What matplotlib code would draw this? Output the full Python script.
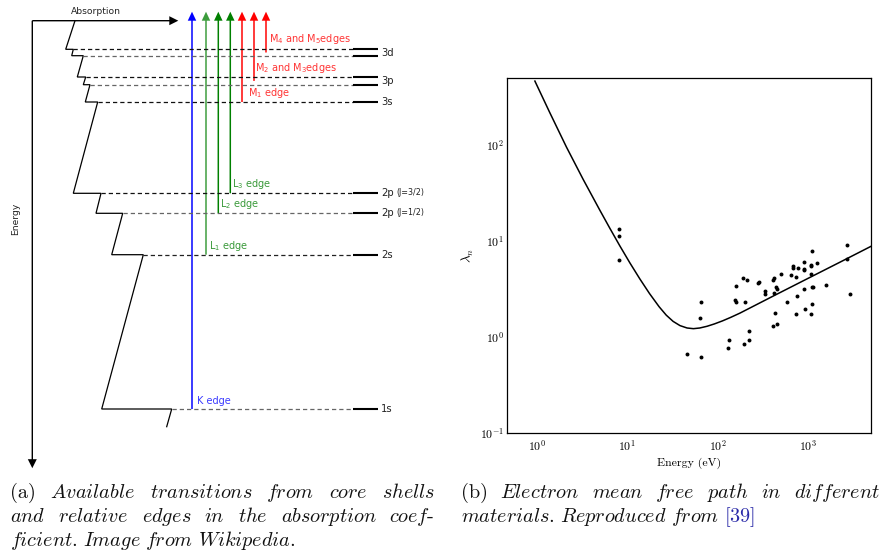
import matplotlib
matplotlib.use('Agg')
import matplotlib.pyplot as plt
from matplotlib.ticker import FuncFormatter, NullLocator, LogLocator
import numpy as np

plt.rcParams['mathtext.fontset'] = 'cm'

# ---------------- panel (a): schematic shell diagram (diagram rows, top = high energy) ----
level_rows = [49.3, 55.7, 77.0, 84.7, 102.0, 193.3, 213.3, 254.7, 409.0]
saw_left = [65.7, 71.7, 77.3, 83.3, 85.3, 73.3, 96.0, 111.7, 101.7]
saw_right = [73.3, 83.3, 85.7, 90.0, 97.7, 101.0, 122.7, 143.3, 171.7]
dash_colors = ['#111111', '#666666', '#111111', '#666666', '#111111',
               '#111111', '#666666', '#222222', '#666666']

shell_names = ['3d', '3p', '3s', '2p', '2p', '2s', '1s']
shell_rows = [52.5, 81.0, 102.0, 193.3, 213.3, 254.7, 409.0]
shell_j = ['', '', '', '(J=3/2)', '(J=1/2)', '', '']

edge_names = ['K edge', 'L$_1$ edge', 'L$_2$ edge', 'L$_3$ edge',
              'M$_1$ edge', 'M$_2$ and M$_3$edges', 'M$_4$ and M$_5$edges']
edge_cols = [192.0, 206.0, 218.3, 230.3, 242.0, 254.0, 266.0]
edge_from = [409.0, 254.7, 213.3, 193.3, 102.0, 80.9, 52.5]
edge_colors = ['#0000ff', '#3c9c3c', '#008000', '#008000', '#ff0000', '#ff0000', '#ff0000']
edge_text_colors = ['#3b3bff', '#3a9a3a', '#3a9a3a', '#3a9a3a', '#ff3535', '#ff3535', '#ff3535']
edge_text_pos = [(196.7, 403.7), (209.3, 248.7), (220.0, 206.7), (232.0, 187.0),
                 (248.0, 95.7), (255.3, 70.7), (268.7, 42.3)]

# ---------------- panel (b): electron mean free path ----
curve_E = [0.955, 1.393, 2.128, 3.251, 4.966, 6.412, 8.260, 10.67, 13.74, 17.58,
           22.44, 26.92, 32.06, 38.19, 45.71, 53.70, 63.10, 75.86, 91.20, 112.2,
           138.0, 175.0, 408.3, 955.0, 2228.0, 4898.0]
curve_lam = [464.5, 218.3, 95.50, 44.06, 21.04, 13.61, 8.93, 5.93, 4.04, 2.84,
             2.07, 1.69, 1.455, 1.315, 1.242, 1.222, 1.242, 1.294, 1.368, 1.472,
             1.600, 1.774, 2.673, 4.018, 6.026, 8.81]

data_E = [8.11, 8.11, 8.11, 160, 65.7, 154, 158, 62.8, 131, 130, 45.1, 64.4,
          187, 212, 200, 279, 286, 332, 333, 414, 410, 418, 441, 449, 493, 583,
          432, 449, 410, 220, 220, 195, 641, 670, 683, 728, 765, 750, 722,
          896, 899, 885, 899, 915, 1066, 1071, 1102, 1250, 1066, 1085, 1127,
          1093, 1071, 1560, 2661, 2661, 2874]
data_lam = [13.2, 11.2, 6.34, 3.44, 2.30, 2.43, 2.33, 1.59, 0.93, 0.774, 0.673, 0.615,
            4.10, 3.91, 2.30, 3.68, 3.77, 3.03, 2.78, 4.09, 3.92, 2.89, 3.29, 3.16,
            4.50, 2.30, 1.79, 1.36, 1.30, 1.15, 0.93, 0.851, 4.48, 5.49, 5.30, 4.20,
            5.20, 2.69, 1.72, 6.09, 5.17, 4.97, 3.14, 1.96, 5.69, 5.49, 7.87, 5.93,
            4.50, 3.34, 3.29, 2.19, 1.72, 3.48, 9.08, 6.54, 2.84]

caption_a = [["(a)", "Available", "transitions", "from", "core", "shells"],
             ["and", "relative", "edges", "in", "the", "absorption", "coef-"],
             ["ficient.", "Image", "from", "Wikipedia."]]
caption_b = [["(b)", "Electron", "mean", "free", "path", "in", "different"],
             ["materials.", "Reproduced", "from", "[39]"]]

W, H = 882, 558
fig = plt.figure(figsize=(W / 100, H / 100), dpi=100)

ax0 = fig.add_axes([0, 0, 1, 1])
ax0.set_xlim(0, W)
ax0.set_ylim(H, 0)
ax0.axis('off')

# axes arrows
ax0.arrow(32.3, 20.7, 0, 447.5, width=1.4, head_width=9, head_length=9,
          length_includes_head=True, color='black', lw=0)
ax0.arrow(32.3, 20.7, 146, 0, width=1.4, head_width=9, head_length=9,
          length_includes_head=True, color='black', lw=0)
ax0.text(96, 14, 'Absorption', fontsize=6.6, ha='center', va='baseline',
         color='#222222', family='DejaVu Sans')
ax0.text(16, 219, 'Energy', fontsize=6.6, ha='center', va='center', rotation=90,
         color='#222222', family='DejaVu Sans')

# sawtooth absorption curve
sx = [75.0]
sy = [20.7]
for yl, xl, xr in zip(level_rows, saw_left, saw_right):
    sx += [xl, xr]
    sy += [yl, yl]
sx.append(166.7)
sy.append(426.7)
ax0.plot(sx, sy, color='black', lw=0.9, solid_joinstyle='miter')

# dashed level lines and level bars
for yl, xr, c in zip(level_rows, saw_right, dash_colors):
    ax0.plot([xr, 353], [yl, yl], color=c, lw=0.9, dashes=(3.4, 2.4))
    ax0.plot([353, 378], [yl, yl], color='black', lw=1.5, solid_capstyle='butt')

for name, yr, j in zip(shell_names, shell_rows, shell_j):
    ax0.text(381, yr, name, fontsize=7.2, ha='left', va='center', color='#222222',
             family='DejaVu Sans')
    if j:
        ax0.text(396, yr - 0.5, j, fontsize=5.8, ha='left', va='center', color='#222222',
                 family='DejaVu Sans')

# edge arrows
for x, y0, c in zip(edge_cols, edge_from, edge_colors):
    ax0.arrow(x, y0, 0, 11.7 - y0, width=1.5, head_width=8.5, head_length=9,
              length_includes_head=True, color=c, lw=0)
for name, (tx, ty), c in zip(edge_names, edge_text_pos, edge_text_colors):
    ax0.text(tx, ty, name, fontsize=7.0, ha='left', va='baseline', color=c,
             family='DejaVu Sans', math_fontfamily='dejavusans')

# ---------------- right axes ----------------
ax = fig.add_axes([507 / W, 1 - 433 / H, 364 / W, 355 / H])
ax.set_xscale('log')
ax.set_yscale('log')
ax.plot(curve_E, curve_lam, color='black', lw=1.1)
ax.scatter(data_E, data_lam, s=8, color='black', lw=0, zorder=3)
ax.set_xlim(0.47, 4900)
ax.set_ylim(0.1, 500)
fmt = FuncFormatter(lambda v, p: r'$10^{%d}$' % int(round(np.log10(v))))
for a in (ax.xaxis, ax.yaxis):
    a.set_major_locator(LogLocator(base=10, numticks=12))
    a.set_minor_locator(NullLocator())
    a.set_major_formatter(fmt)
ax.tick_params(length=0, labelsize=8.5, pad=4)
ax.tick_params(axis='y', pad=2)
for s in ax.spines.values():
    s.set_linewidth(0.9)
ax.set_xlabel('Energy (eV)', fontsize=8.5, family='cmr10', labelpad=3)
ax.set_ylabel(r'$\lambda_n$', fontsize=9.5, labelpad=3)

# ---------------- captions (justified) ----------------
fig.canvas.draw()
renderer = fig.canvas.get_renderer()
FS = 14.6


def make_word(w, color='#111111'):
    if w in ('(a)', '(b)'):
        return ax0.text(0, 0, w, fontsize=FS, family='cmr10', va='baseline', color=color)
    if w == '[39]':
        return ax0.text(0, 0, r'$\mathit{[}$' + '39' + r'$\mathit{]}$', fontsize=FS,
                        family='cmr10', va='baseline', color='#2a2aa8')
    if w.endswith('-'):
        return ax0.text(0, 0, r'$\mathit{%s}$-' % w[:-1], fontsize=FS, family='cmr10',
                        va='baseline', color=color)
    return ax0.text(0, 0, r'$\mathit{%s}$' % w, fontsize=FS, family='cmr10',
                    va='baseline', color=color)


def place(words, x0, y, x1=None, gap=5.0):
    ts = [make_word(w) for w in words]
    fig.canvas.draw()
    ws = [t.get_window_extent(renderer).width for t in ts]
    if x1 is not None and len(ts) > 1:
        gap = (x1 - x0 - sum(ws)) / (len(ts) - 1)
    x = x0
    for t, w in zip(ts, ws):
        t.set_position((x, y))
        x += w + gap


base = [498, 522, 546]
place(caption_a[0], 10, base[0], 435)
place(caption_a[1], 10, base[1], 435)
place(caption_a[2], 10, base[2])
place(caption_b[0], 461, base[0], 880)
place(caption_b[1], 461, base[1])

fig.savefig('out.png', dpi=100)
